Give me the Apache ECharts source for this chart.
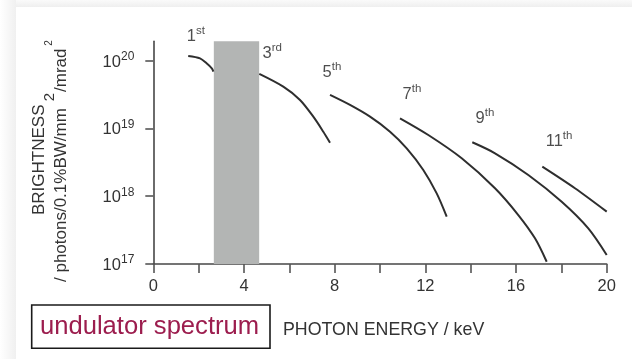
<!DOCTYPE html>
<html>
<head>
<meta charset="utf-8">
<script src="https://cdn.jsdelivr.net/npm/echarts@6/dist/echarts.min.js"></script>
<style>
html,body{margin:0;padding:0;background:#fff;}
#chart{width:632px;height:359px;}
</style>
</head>
<body>
<div id="chart"></div>
<script>
// ---- data (photon energy keV, brightness) ----
const harmonic1 = [[1.54,1.17e20],[2.06,1.08e20],[2.35,9.15e19],[2.58,7.7e19],[2.65,6.9e19]];
const harmonic3 = [[4.676,6.37e19],[5.734,4.13e19],[6.471,2.63e19],[7.058,1.49e19],[7.499,8.95e18],[7.795,6.17e18]];
const harmonic5 = [[7.795,3.12e19],[8.677,2.22e19],[9.56,1.49e19],[10.442,8.95e18],[11.178,5.09e18],[11.91,2.44e18],[12.501,1.10e18],[12.942,4.99e17]];
const harmonic7 = [[10.882,1.41e19],[12.131,8.0e18],[13.604,3.63e18],[15.073,1.31e18],[16.101,5.28e17],[16.837,2.39e17],[17.353,1.08e17]];
const harmonic9 = [[14.071,6.25e18],[15.073,4.30e18],[16.542,2.06e18],[18.015,8.3e17],[19.188,3.36e17],[20.0,1.36e17]];
const harmonic11 = [[17.16,2.73e18],[18.6,1.31e18],[20.0,5.92e17]];

const harmonicNumbers = ['1','3','5','7','9','11'];
const harmonicSuffixes = ['st','rd','th','th','th','th'];
const harmonicLabelX = [1.88, 5.25, 7.88, 11.41, 14.63, 17.9];
const harmonicLabelY = [2.39e20, 1.34e20, 7.05e19, 3.33e19, 1.48e19, 6.76e18];

const bandRange = [2.67, 4.67];
const xTicks = [0, 20, 2];
const xLabelStep = 4;
const yTickValues = [1e17, 1e18, 1e19, 1e20];
const yRange = [1e17, 1.93e20];

const chart = echarts.init(document.getElementById('chart'), null, {renderer:'canvas'});
const FONT = 'Liberation Sans, Arial, sans-serif';
const lineStyle = {color:'#2e2e2e', width:2};

function curve(data){
  return {
    type:'line', data:data, smooth:0.3, showSymbol:false, symbol:'none',
    lineStyle:lineStyle, silent:true, z:3, clip:false
  };
}

const labelData = harmonicNumbers.map((n,i)=>[harmonicLabelX[i], harmonicLabelY[i], n, harmonicSuffixes[i]]);

const option = {
  animation:false,
  backgroundColor:'#ffffff',
  grid:{left:153.3, right:25.3, top:41.3, bottom:95, outerBoundsMode:'none'},
  xAxis:{
    type:'value', min:xTicks[0], max:xTicks[1], interval:xTicks[2],
    axisLine:{show:true, lineStyle:{color:'#474747', width:1.6}},
    axisTick:{show:true, length:9, lineStyle:{color:'#555', width:1.6}},
    axisLabel:{margin:14, color:'#333', fontSize:16.5, fontFamily:FONT,
      formatter:function(v){ return (v % xLabelStep === 0) ? String(v) : ''; }},
    splitLine:{show:false}
  },
  yAxis:{
    type:'log', logBase:10, min:yRange[0], max:yRange[1],
    axisLine:{show:true, lineStyle:{color:'#474747', width:1.6}},
    axisTick:{show:true, length:8, customValues:yTickValues, lineStyle:{color:'#555', width:1.6}},
    axisLabel:{
      customValues:yTickValues, margin:19, color:'#333', fontFamily:FONT,
      formatter:function(v){ const e=Math.round(Math.log10(v)); return '{b|10}{s|'+e+'}'; },
      rich:{
        b:{fontSize:16.5, fontFamily:FONT, color:'#333', lineHeight:20, verticalAlign:'bottom'},
        s:{fontSize:12, fontFamily:FONT, color:'#333', lineHeight:20, verticalAlign:'top', padding:[0,0,6,0]}
      }
    },
    splitLine:{show:false}
  },
  series:[
    {
      type:'line', data:[], silent:true, z:1,
      markArea:{silent:true, itemStyle:{color:'#b3b5b4', opacity:1},
        data:[[{xAxis:bandRange[0], yAxis:yRange[0]},{xAxis:bandRange[1], yAxis:yRange[1]}]]}
    },
    curve(harmonic1), curve(harmonic3), curve(harmonic5),
    curve(harmonic7), curve(harmonic9), curve(harmonic11),
    {
      type:'scatter', data:labelData, symbolSize:0, clip:false, silent:true, z:5,
      label:{
        show:true, position:'inside',
        formatter:function(p){ return '{b|'+p.data[2]+'}{s|'+p.data[3]+'}'; },
        rich:{
          b:{fontSize:16.5, fontFamily:FONT, color:'#222', lineHeight:20, verticalAlign:'bottom'},
          s:{fontSize:11.5, fontFamily:FONT, color:'#222', lineHeight:20, verticalAlign:'top', padding:[0,0,6,0]}
        }
      }
    }
  ],
  graphic:[
    {type:'rect', shape:{x:0,y:0,width:632,height:7}, silent:true,
      style:{fill:new echarts.graphic.LinearGradient(0,0,0,1,[{offset:0,color:'#fafafa'},{offset:1,color:'#efefef'}])}},
    {type:'rect', shape:{x:0,y:0,width:16,height:359}, silent:true,
      style:{fill:new echarts.graphic.LinearGradient(0,0,1,0,[{offset:0,color:'#ffffff'},{offset:1,color:'#f0f0f0'}])}},
    {type:'text', x:39, y:215, rotation:Math.PI/2, silent:true,
      style:{text:'BRIGHTNESS', font:'17px '+FONT, fill:'#333', textAlign:'left', textVerticalAlign:'middle'}},
    {type:'text', x:61, y:282, rotation:Math.PI/2, silent:true,
      style:{text:'/ photons/0.1%BW/mm', font:'17px '+FONT, fill:'#333', textAlign:'left', textVerticalAlign:'middle'}},
    {type:'text', x:50, y:97, rotation:Math.PI/2, silent:true,
      style:{text:'2', font:'15px '+FONT, fill:'#333', textAlign:'center', textVerticalAlign:'middle'}},
    {type:'text', x:61, y:92, rotation:Math.PI/2, silent:true,
      style:{text:'/mrad', font:'17px '+FONT, fill:'#333', textAlign:'left', textVerticalAlign:'middle'}},
    {type:'text', x:49.5, y:43, rotation:Math.PI/2, silent:true,
      style:{text:'2', font:'10px '+FONT, fill:'#333', textAlign:'center', textVerticalAlign:'middle'}},
    {type:'rect', shape:{x:31.7, y:305, width:238.3, height:43.3}, silent:true,
      style:{fill:'#fff', stroke:'#1a1a1a', lineWidth:1.6}},
    {type:'text', x:40, y:327, silent:true,
      style:{text:'undulator spectrum', font:'25.6px '+FONT, fill:'#9c1d4e', textAlign:'left', textVerticalAlign:'middle'}},
    {type:'text', x:283, y:330, silent:true,
      style:{text:'PHOTON ENERGY / keV', font:'17.8px '+FONT, fill:'#333', textAlign:'left', textVerticalAlign:'middle'}}
  ]
};
chart.setOption(option);
</script>
</body>
</html>
